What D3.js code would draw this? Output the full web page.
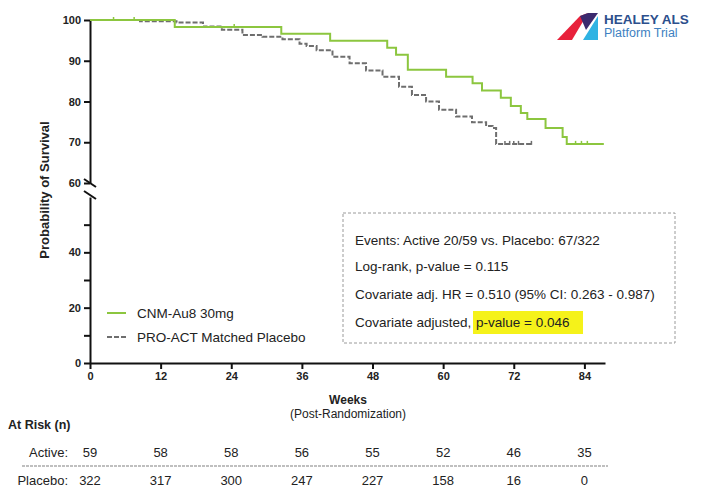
<!DOCTYPE html>
<html lang="en">
  <head>
    <meta charset="UTF-8" />
    <title>Survival</title>
    <script src="https://d3js.org/d3.v7.min.js"></script>
    <style>
      body { margin: 0; background: #fff; }
      text { font-family: "Liberation Sans", Arial, sans-serif; fill: #222; }
      .tick text { font-weight: bold; font-size: 11px; fill: #222; }
      .tick line, .domain { stroke: #111; stroke-width: 2px; }
    </style>
  </head>
  <body>
    <svg id="canvas"></svg>
  </body>
  <script>
    // Kaplan-Meier steps (week, % surviving)
    let activeWeeks = [0, 14.4, 32.5, 40.8, 50.5, 52, 54, 60.5, 65, 66.6, 69.8, 71.5, 73.2, 74.3, 77.4, 80.3, 81, 87.3];
    let activeSurv = [100, 98.3, 96.6, 94.9, 93.2, 91.5, 87.8, 86.1, 84.5, 82.7, 80.9, 78.9, 77.2, 75.7, 73.5, 71.3, 69.6, 69.6];
    let activeCensor = [4, 7.5, 24.5, 82.5, 83.5, 84.5];

    let placeboWeeks = [0, 8.5, 14.7, 19.2, 22.4, 25.9, 29.3, 32.7, 35.6, 36.8, 38.5, 41.2, 44.1, 46.9, 49.7, 52.5, 54.7, 57.1, 59.3, 62.2, 64.9, 67.3, 68.4, 69.0, 75.2];
    let placeboSurv = [100, 99.7, 99.4, 98.4, 97.6, 96.3, 95.9, 95.3, 94.2, 93.6, 92.6, 91.0, 89.4, 87.6, 86.1, 83.6, 81.6, 80.0, 78.0, 76.3, 74.9, 74.0, 73.5, 69.6, 69.6];
    let placeboCensor = [70.5, 71.3, 72, 72.8, 75];

    let weekTicks = [0, 12, 24, 36, 48, 60, 72, 84];
    let atRiskActive = [59, 58, 58, 56, 55, 52, 46, 35];
    let atRiskPlacebo = [322, 317, 300, 247, 227, 158, 16, 0];

    let statLines = [
      "Events: Active 20/59 vs. Placebo: 67/322",
      "Log-rank, p-value = 0.115",
      "Covariate adj. HR = 0.510 (95% CI: 0.263 - 0.987)",
      "Covariate adjusted,",
    ];

    let width = 704;
    let height = 487;
    let green = "#8cc63f";
    let grey = "#6e6e6e";

    let svg = d3.select("svg").attr("width", width).attr("height", height);

    let x = d3.scaleLinear().domain([0, 87.5]).range([90, 605]);
    let yTop = d3.scaleLinear().domain([60, 100]).range([183, 20]);
    let yBot = d3.scaleLinear().domain([0, 60]).range([363, 197]);
    let y = (v) => (v >= 60 ? yTop(v) : yBot(v));

    let drawAxes = () => {
      svg.append("g")
        .attr("transform", "translate(90,0)")
        .call(d3.axisLeft(yTop).tickValues([60, 70, 80, 90, 100]).tickSize(6).tickSizeOuter(0));

      svg.append("g")
        .attr("transform", "translate(90,0)")
        .call(d3.axisLeft(yBot).tickValues([0, 10, 20, 30, 40, 50]).tickSize(6).tickSizeOuter(0)
          .tickFormat((d) => (d % 20 === 0 ? d : "")));

      svg.append("g")
        .attr("transform", "translate(0,363)")
        .call(d3.axisBottom(x).tickValues(weekTicks).tickSize(6).tickSizeOuter(0));

      svg.selectAll(".tick text").attr("font-family", null);

      // axis break marks
      [183, 195].forEach((b) => {
        svg.append("line")
          .attr("x1", 84).attr("y1", b - 4)
          .attr("x2", 96).attr("y2", b + 4)
          .attr("stroke", "#111").attr("stroke-width", 2);
      });
      svg.append("rect").attr("x", 87).attr("y", 186).attr("width", 6).attr("height", 6).attr("fill", "#fff");

      svg.append("text")
        .attr("transform", "translate(49,190) rotate(-90)")
        .attr("text-anchor", "middle")
        .attr("font-weight", "bold")
        .attr("font-size", 13)
        .text("Probability of Survival");

      svg.append("text")
        .attr("x", 348).attr("y", 404)
        .attr("text-anchor", "middle").attr("font-weight", "bold").attr("font-size", 12)
        .text("Weeks");
      svg.append("text")
        .attr("x", 348).attr("y", 418)
        .attr("text-anchor", "middle").attr("font-size", 12)
        .text("(Post-Randomization)");
    };

    let drawCurves = () => {
      let line = d3.line()
        .x((d) => x(d[0]))
        .y((d) => y(d[1]))
        .curve(d3.curveStepAfter);

      let placebo = placeboWeeks.map((w, i) => [w, placeboSurv[i]]);
      let active = activeWeeks.map((w, i) => [w, activeSurv[i]]);

      svg.append("path")
        .datum(placebo)
        .attr("d", line)
        .attr("fill", "none")
        .attr("stroke", grey)
        .attr("stroke-width", 2)
        .attr("stroke-dasharray", "5,2");

      svg.append("path")
        .datum(active)
        .attr("d", line)
        .attr("fill", "none")
        .attr("stroke", green)
        .attr("stroke-width", 2);

      let survAt = (weeks, surv, w) => surv[d3.bisectRight(weeks, w) - 1];

      svg.selectAll(".cp")
        .data(placeboCensor)
        .enter()
        .append("line")
        .attr("x1", (d) => x(d)).attr("x2", (d) => x(d))
        .attr("y1", (d) => y(survAt(placeboWeeks, placeboSurv, d)) - 3)
        .attr("y2", (d) => y(survAt(placeboWeeks, placeboSurv, d)) + 1)
        .attr("stroke", grey).attr("stroke-width", 1.5);

      svg.selectAll(".ca")
        .data(activeCensor)
        .enter()
        .append("line")
        .attr("x1", (d) => x(d)).attr("x2", (d) => x(d))
        .attr("y1", (d) => y(survAt(activeWeeks, activeSurv, d)) - 3)
        .attr("y2", (d) => y(survAt(activeWeeks, activeSurv, d)) + 1)
        .attr("stroke", green).attr("stroke-width", 1.5);
    };

    let drawLegend = () => {
      let items = [
        { label: "CNM-Au8 30mg", color: green, dash: null, y: 313 },
        { label: "PRO-ACT Matched Placebo", color: grey, dash: "5,2", y: 337 },
      ];
      items.forEach((it) => {
        svg.append("line")
          .attr("x1", 107).attr("x2", 126)
          .attr("y1", it.y).attr("y2", it.y)
          .attr("stroke", it.color).attr("stroke-width", 2)
          .attr("stroke-dasharray", it.dash);
        svg.append("text")
          .attr("x", 137).attr("y", it.y + 5)
          .attr("font-size", 13.5)
          .text(it.label);
      });
    };

    let drawStats = () => {
      svg.append("rect")
        .attr("x", 343).attr("y", 213)
        .attr("width", 332).attr("height", 130)
        .attr("fill", "#fff")
        .attr("stroke", "#9a9a9a")
        .attr("stroke-dasharray", "3,2");

      svg.append("rect")
        .attr("x", 473).attr("y", 311)
        .attr("width", 110).attr("height", 23)
        .attr("fill", "#f5f21a");

      let ys = [245, 271, 299, 327];
      statLines.forEach((s, i) => {
        svg.append("text")
          .attr("x", 355).attr("y", ys[i])
          .attr("font-size", 13.5)
          .text(s);
      });
      svg.append("text")
        .attr("x", 476).attr("y", 327)
        .attr("font-size", 13.5)
        .text("p-value = 0.046");
    };

    let drawAtRisk = () => {
      svg.append("text")
        .attr("x", 8).attr("y", 429)
        .attr("font-weight", "bold").attr("font-size", 12.5)
        .text("At Risk (n)");

      svg.append("text").attr("x", 68).attr("y", 457).attr("text-anchor", "end").attr("font-size", 13).text("Active:");
      svg.append("text").attr("x", 68).attr("y", 485).attr("text-anchor", "end").attr("font-size", 13).text("Placebo:");

      svg.append("line")
        .attr("x1", 22).attr("x2", 608)
        .attr("y1", 466).attr("y2", 466)
        .attr("stroke", "#aaa").attr("stroke-width", 1.5)
        .attr("stroke-dasharray", "3,1");

      svg.selectAll(".ra")
        .data(atRiskActive)
        .enter()
        .append("text")
        .attr("x", (d, i) => x(weekTicks[i]))
        .attr("y", 457)
        .attr("text-anchor", "middle").attr("font-size", 13)
        .text((d) => d);

      svg.selectAll(".rp")
        .data(atRiskPlacebo)
        .enter()
        .append("text")
        .attr("x", (d, i) => x(weekTicks[i]))
        .attr("y", 485)
        .attr("text-anchor", "middle").attr("font-size", 13)
        .text((d) => d);
    };

    let drawLogo = () => {
      let g = svg.append("g");
      g.append("polygon").attr("points", "557,40 580,16 588,13 572,40").attr("fill", "#e8213b");
      g.append("polygon").attr("points", "580,16 588,13 598,13 586,30").attr("fill", "#3b2a6e");
      g.append("polygon").attr("points", "583,40 598,16 598,40").attr("fill", "#2fb3e3");
      g.append("text").attr("x", 604).attr("y", 24)
        .attr("font-weight", "bold").attr("font-size", 13.5)
        .style("fill", "#2c4f8c").text("HEALEY ALS");
      g.append("text").attr("x", 604).attr("y", 37)
        .attr("font-size", 12.5)
        .style("fill", "#3e7fc1").text("Platform Trial");
    };

    drawAxes();
    drawCurves();
    drawLegend();
    drawStats();
    drawAtRisk();
    drawLogo();
  </script>
</html>
